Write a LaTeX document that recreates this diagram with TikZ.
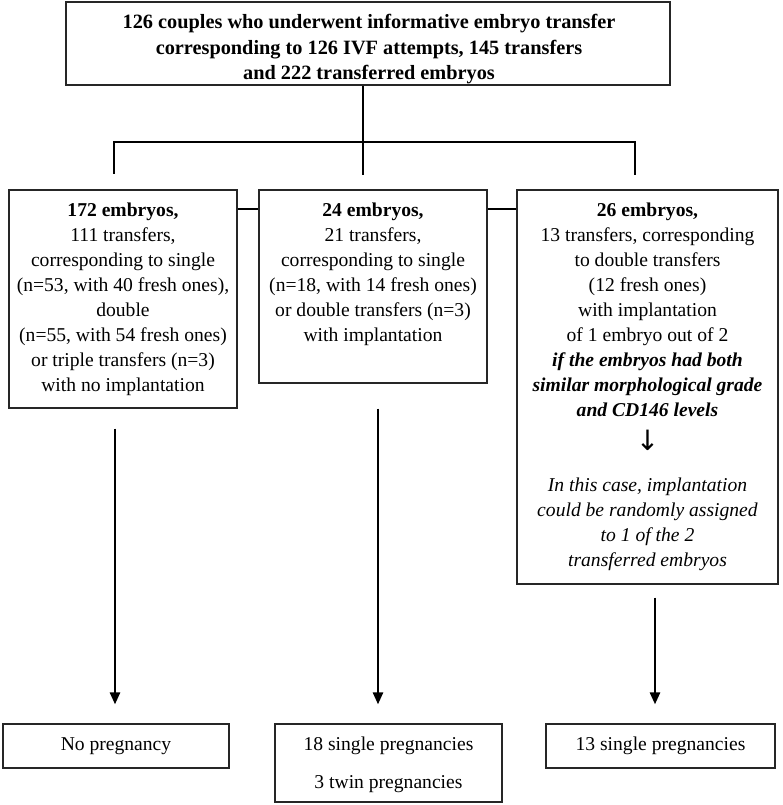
\documentclass[tikz,border=0pt]{standalone}
\usepackage{fontspec}
\setmainfont{Liberation Serif}
\newfontfamily\arrowfont{DejaVu Sans}
\usetikzlibrary{arrows.meta}
\begin{document}
\begin{tikzpicture}[x=1pt,y=-1pt,
  box/.style={draw=black!85, line width=1.2pt, inner sep=0pt},
  txt/.style={align=center, inner sep=0pt, font=\fontsize{19.6}{25}\selectfont},
  link/.style={line width=2.5pt},
  arr/.style={line width=2.5pt, -{Triangle[width=10pt,length=12pt]}}]
\useasboundingbox (0,0) rectangle (782,805);

% boxes
\node[box, minimum width=604pt, minimum height=83pt] (top) at (368,43.5) {};
\node[box, minimum width=228pt, minimum height=218pt] (left) at (123,299) {};
\node[box, minimum width=228pt, minimum height=193pt] (mid) at (373,286.5) {};
\node[box, minimum width=261pt, minimum height=394pt] (right) at (647.5,387) {};
\node[box, minimum width=226pt, minimum height=44pt] (bl) at (116,746) {};
\node[box, minimum width=227pt, minimum height=78pt] (bm) at (388.5,763) {};
\node[box, minimum width=229pt, minimum height=44pt] (br) at (660.5,746) {};

% texts
\node[txt, anchor=north, font=\fontsize{20.3}{25.5}\selectfont\bfseries] (ttop) at (369,14.5)
  {126 couples who underwent informative embryo transfer\\
   corresponding to 126 IVF attempts, 145 transfers\\
   and 222 transferred embryos};
\node[txt, anchor=north] (tleft) at (123,202.5)
  {{\bfseries 172 embryos,}\\ 111 transfers,\\ corresponding to single\\
   (n=53, with 40 fresh ones),\\ double\\ (n=55, with 54 fresh ones)\\
   or triple transfers (n=3)\\ with no implantation};
\node[txt, anchor=north] (tmid) at (373,202.5)
  {{\bfseries 24 embryos,}\\ 21 transfers,\\ corresponding to single\\
   (n=18, with 14 fresh ones)\\ or double transfers (n=3)\\ with implantation};
\node[txt, anchor=north] (tright) at (647.5,202.5)
  {{\bfseries 26 embryos,}\\ 13 transfers, corresponding\\ to double transfers\\
   (12 fresh ones)\\ with implantation\\ of 1 embryo out of 2\\
   \textbf{\textit{if the embryos had both}}\\
   \textbf{\textit{similar morphological grade}}\\
   \textbf{\textit{and CD146 levels}}\\[9pt]
   {\arrowfont\fontsize{28}{25}\selectfont ↓}\\[16pt]
   \textit{In this case, implantation}\\
   \textit{could be randomly assigned}\\
   \textit{to 1 of the 2}\\
   \textit{transferred embryos}};
\node[txt] (tbl) at (bl.center) {No pregnancy};
\node[txt, font=\fontsize{19.6}{38}\selectfont] (tbm) at (388.5,765)
  {18 single pregnancies\\ 3 twin pregnancies};
\node[txt] (tbr) at (br.center) {13 single pregnancies};

% tree connectors
\coordinate (j) at (363,142);
\coordinate (jl) at (114,142);
\coordinate (jr) at (635,142);
\coordinate (tl) at (114,174);
\coordinate (tm) at (363,175);
\coordinate (tr) at (635,175);
\draw[link] (top.south -| j) -- (tm);
\draw[link] (tl) -- (jl) -- (jr) -- (tr);

% side connectors
\coordinate (cy) at (0,209);
\draw[link] (left.east |- cy) -- (mid.west |- cy);
\draw[link] (mid.east |- cy) -- (right.west |- cy);

% arrows
\coordinate (a1) at (115,0);
\coordinate (a2) at (378,0);
\coordinate (a3) at (655,0);
\draw[arr, shorten <=20pt, shorten >=19pt] (left.south -| a1) -- (bl.north -| a1);
\draw[arr, shorten <=25pt, shorten >=19pt] (mid.south -| a2) -- (bm.north -| a2);
\draw[arr, shorten <=13pt, shorten >=19pt] (right.south -| a3) -- (br.north -| a3);
\end{tikzpicture}
\end{document}
